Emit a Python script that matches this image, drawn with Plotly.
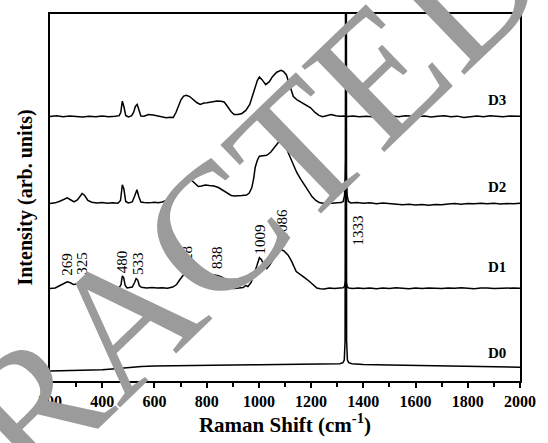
import plotly.graph_objects as go

# ---------------- data ----------------
d0_x = [200, 250, 300, 350, 400, 450, 500, 550, 600, 650, 700, 800, 900, 1000, 1100, 1200, 1280, 1310,
        1322, 1327, 1330, 1331.5, 1333, 1334.5, 1336, 1339, 1344, 1356, 1400, 1500, 1600, 1700, 1800, 1900, 2000]
d0_y = [10, 10.2, 10.5, 10.8, 11.2, 12.2, 13.5, 14.5, 15.0, 15.3, 15.5, 16.0, 16.2, 16.3, 16.4, 16.5, 16.8, 17.3,
        18.5, 21, 40, 300, 1200, 300, 40, 21, 18.5, 17.3, 16.6, 16.2, 15.8, 15.3, 15.0, 14.5, 13.8]

d1_x = [200, 220, 240, 255, 266, 278, 290, 305, 315, 328, 340, 355, 370, 390, 410, 430, 450, 465, 472, 477,
        482, 488, 495, 505, 515, 524, 530, 536, 542, 550, 570, 590, 610, 630, 650, 670, 685, 695, 705, 715,
        724, 735, 750, 770, 790, 801, 815, 830, 841, 855, 867, 880, 890, 905, 920, 940, 949, 958, 970, 980,
        990, 1002, 1010, 1020, 1030, 1040, 1050, 1060, 1072, 1085, 1095, 1112, 1125, 1143, 1160, 1175, 1194,
        1210, 1222, 1235, 1250, 1270, 1290, 1310, 1322, 1328, 1331, 1333, 1335, 1338, 1344, 1360, 1380, 1400,
        1425, 1450, 1475, 1500, 1525, 1550, 1575, 1600, 1625, 1650, 1675, 1700, 1725, 1750, 1775, 1800, 1825,
        1850, 1875, 1900, 1925, 1950, 1975, 2000]
d1_y = [93.0, 93.6, 96.3, 98.5, 99.7, 98.8, 97.0, 97.6, 98.0, 97.2, 95.7, 94.0, 93.4, 93.8, 93.2, 93.6, 93.1,
        93.8, 97, 105.7, 104, 96, 93.5, 93.8, 94.5, 99, 103, 101.5, 96, 94.3, 93.6, 94.0, 93.4, 93.8, 93.3,
        94.5, 97, 101, 105, 108, 109.5, 108, 106, 105, 105.5, 106, 106.5, 106.5, 106, 105, 103, 97, 93.5, 93,
        93.5, 94, 96, 95, 99, 106, 114, 124, 122, 116, 113, 116, 120, 124.5, 129, 132, 131, 126.5, 120.5, 110,
        107, 104, 100, 96, 93.5, 92.8, 92.6, 93.4, 93.0, 93.6, 93.8, 95, 99, 101.5, 99, 95, 93.5, 93.1, 93.6,
        93.0, 93.5, 92.8, 93.4, 93.1, 93.7, 93.2, 92.7, 93.4, 93.0, 93.6, 93.1, 92.9, 93.5, 93.2, 93.8, 93.1,
        92.8, 93.4, 93.6, 93.0, 93.3, 92.9, 93.5, 93.2]

d2_x = [200, 220, 240, 255, 266, 280, 292, 305, 315, 323, 333, 345, 360, 380, 400, 420, 440, 460, 470, 477,
        483, 490, 500, 515, 525, 533, 540, 548, 560, 580, 600, 615, 630, 645, 656, 668, 676, 686, 696, 706,
        715, 728, 742, 755, 768, 780, 795, 810, 828, 845, 861, 878, 894, 907, 920, 935, 953, 963, 973, 980,
        986, 994, 1002, 1015, 1030, 1045, 1060, 1075, 1085, 1095, 1105, 1112, 1128, 1145, 1160, 1178, 1190,
        1204, 1218, 1231, 1245, 1260, 1280, 1300, 1315, 1323, 1328, 1331, 1333, 1335, 1338, 1343, 1352, 1375,
        1400, 1425, 1450, 1475, 1500, 1525, 1550, 1575, 1600, 1625, 1650, 1675, 1700, 1725, 1750, 1775, 1800,
        1825, 1850, 1875, 1900, 1925, 1950, 1975, 2000]
d2_y = [178.5, 179.1, 181.0, 183.0, 184.2, 182.0, 180.2, 182.0, 185.5, 188.5, 186.5, 181.5, 179.7, 178.9,
        179.4, 178.7, 179.3, 178.8, 181.5, 197.3, 193, 180.5, 179.0, 180.0, 186.5, 192.3, 185.5, 180.0, 179.5,
        179.1, 179.8, 179.2, 180.0, 181.5, 183.5, 184.0, 185.2, 188.5, 193.5, 198.5, 201, 202.5, 202, 199,
        195.5, 196, 197, 196.5, 196, 194.5, 191.8, 188.5, 186.5, 186, 186, 186.5, 187, 189, 194.5, 203.5,
        215, 222, 226, 226.5, 227, 230, 235, 240, 242, 239.5, 234, 229.7, 219, 209.7, 203, 196.3, 191, 185.2,
        181.5, 179.5, 178.7, 179.3, 178.6, 179.1, 179.4, 180.5, 186.5, 205, 228, 205, 186.5, 180.5, 179.0,
        179.4, 178.7, 179.1, 178.3, 178.9, 178.1, 177.5, 177.1, 177.7, 177.0, 177.4, 176.8, 177.5, 177.1,
        177.9, 178.4, 177.8, 178.5, 178.1, 178.7, 178.2, 178.6, 178.0, 178.5, 178.1, 178.6]

d3_x = [200, 225, 250, 275, 300, 325, 350, 375, 400, 425, 450, 465, 471, 477, 483, 490, 500, 512, 520, 527,
        534, 540, 548, 560, 577, 595, 612, 630, 645, 660, 672, 682, 692, 702, 712, 722, 735, 748, 762, 775,
        790, 801, 820, 840, 855, 867, 880, 893, 905, 920, 935, 950, 965, 977, 986, 994, 1002, 1012, 1026, 1040,
        1052, 1068, 1085, 1095, 1105, 1118, 1132, 1145, 1158, 1175, 1198, 1215, 1230, 1244, 1260, 1277, 1295,
        1310, 1325, 1340, 1360, 1385, 1410, 1435, 1460, 1485, 1510, 1535, 1560, 1585, 1610, 1635, 1660, 1685,
        1710, 1735, 1760, 1785, 1810, 1835, 1860, 1885, 1910, 1935, 1960, 1985, 2000]
d3_y = [266.0, 266.6, 265.8, 266.4, 266.0, 265.5, 266.3, 265.8, 266.4, 265.7, 266.2, 266.8, 270, 281.3, 276,
        267, 265.5, 266.5, 270, 276, 278, 272, 266.5, 266.2, 268, 267.5, 266.5, 265.2, 264.8, 265.3, 265, 269.7,
        276, 283, 286.5, 287.3, 286, 283, 280, 278, 279.5, 279.7, 280.5, 281.5, 281.3, 280.5, 276, 271, 268,
        268, 269, 272, 278, 287, 296, 302, 305.7, 303, 298, 301, 306, 310.5, 312.3, 311, 308, 297, 286, 283,
        281, 278, 274.7, 270, 267, 265.7, 266.5, 268, 266.8, 266.1, 266.4, 265.9, 266.5, 265.8, 266.3, 265.6,
        266.6, 266.0, 266.4, 265.7, 266.8, 266.2, 265.9, 266.5, 265.4, 266.1, 266.6, 265.8, 266.3, 264.9, 266.0,
        266.5, 265.7, 266.8, 266.2, 265.6, 266.4, 265.9, 266.2]

series_names = ["D0", "D1", "D2", "D3"]
series_label_y = [28, 115, 195, 283]
series_label_x = 1911

peak_labels = ["269", "325", "480", "533", "728", "838", "1009", "1086", "1333"]
peak_label_x = [262, 323, 474, 535, 724, 837, 1003, 1087, 1378]
peak_label_y = [117, 118, 120, 118, 125, 124, 142, 158, 151]

x_ticks = [200, 400, 600, 800, 1000, 1200, 1400, 1600, 1800, 2000]

# ---------------- figure ----------------
FONT = "Liberation Serif"
fig = go.Figure()
for xs, ys in [(d0_x, d0_y), (d1_x, d1_y), (d2_x, d2_y), (d3_x, d3_y)]:
    fig.add_trace(go.Scatter(x=xs, y=ys, mode="lines",
                             line=dict(color="black", width=1.5),
                             showlegend=False, hoverinfo="skip"))

annotations = []
for name, yy in zip(series_names, series_label_y):
    annotations.append(dict(x=series_label_x, y=yy, xref="x", yref="y", text=name,
                            showarrow=False, font=dict(family=FONT, size=15, color="black", weight="bold")))
for t, xx, yy in zip(peak_labels, peak_label_x, peak_label_y):
    annotations.append(dict(x=xx, y=yy, xref="x", yref="y", text=t, textangle=-90,
                            showarrow=False, font=dict(family=FONT, size=15, color="black")))
# watermark
annotations.append(dict(x=0.163, y=0.179, xref="paper", yref="paper", text="RETRACTED",
                        textangle=-44, showarrow=False, xanchor="center", yanchor="middle",
                        font=dict(family=FONT, size=182, color="#9b9b9b")))

fig.update_layout(
    width=548, height=443,
    margin=dict(l=50, r=21, t=14, b=60),
    paper_bgcolor="white", plot_bgcolor="white",
    annotations=annotations,
    xaxis=dict(range=[200, 2000], tickvals=x_ticks, ticks="outside", ticklen=5, tickwidth=1.5,
               tickcolor="black", showline=True, linewidth=2, linecolor="black", mirror=True,
               showgrid=False, zeroline=False,
               minor=dict(dtick=100, tick0=200, ticks="outside", ticklen=4, tickwidth=1.5, tickcolor="black"),
               tickfont=dict(family=FONT, size=16, color="black", weight="bold"),
               title=dict(text="Raman Shift (cm<sup>-1</sup>)", standoff=6,
                          font=dict(family=FONT, size=21, color="black", weight="bold"))),
    yaxis=dict(range=[0, 369], showticklabels=False, ticks="", showline=True, linewidth=2,
               linecolor="black", mirror=True, showgrid=False, zeroline=False,
               title=dict(text="Intensity (arb. units)", standoff=10,
                          font=dict(family=FONT, size=20, color="black", weight="bold"))),
)

fig.write_html("out.html")
